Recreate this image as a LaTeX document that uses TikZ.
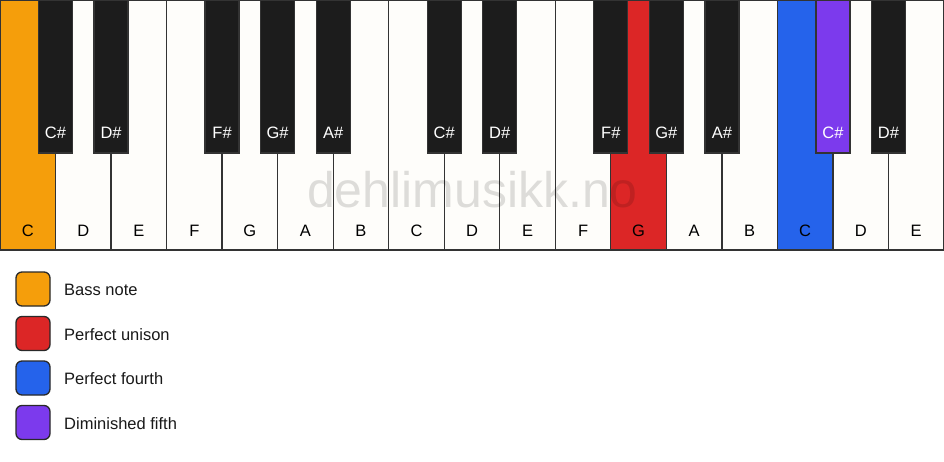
\documentclass[tikz,border=0pt]{standalone}
\usepackage{fontspec}
\setmainfont{Liberation Sans}
\definecolor{keywhite}{HTML}{FEFDFA}
\definecolor{keyblack}{HTML}{1C1C1C}
\definecolor{keyline}{HTML}{333333}
\definecolor{cbass}{HTML}{F59E0B}
\definecolor{cunison}{HTML}{DC2626}
\definecolor{cfourth}{HTML}{2563EB}
\definecolor{cfifth}{HTML}{7C3AED}
\tikzset{
  whitekey/.style={draw=keyline, line width=1.3pt, fill=keywhite},
  blackkey/.style={draw=keyline, line width=1.3pt, fill=keyblack},
  wlabel/.style={anchor=base, font=\fontsize{16.5}{19}\selectfont, text=black},
  blabel/.style={anchor=base, font=\fontsize{16.5}{19}\selectfont, text=white},
  legbox/.style={draw=keyline!80!black, line width=1.3pt, rounded corners=6pt, minimum width=34pt, minimum height=34pt, inner sep=0pt},
  legtext/.style={anchor=west, inner sep=0pt, font=\fontsize{16.5}{19}\selectfont, text=black!90},
  watermark/.style={anchor=base, font=\fontsize{50}{60}\selectfont, text=black, opacity=0.13}
}
\begin{document}
\begin{tikzpicture}[x=1pt,y=-1pt]
\useasboundingbox[fill=white] (0,0) rectangle (944,461);
\def\w{55.5294}
% white keys
\foreach \i/\n/\c in {0/C/cbass,1/D/keywhite,2/E/keywhite,3/F/keywhite,4/G/keywhite,5/A/keywhite,6/B/keywhite,7/C/keywhite,8/D/keywhite,9/E/keywhite,10/F/keywhite,11/G/cunison,12/A/keywhite,13/B/keywhite,14/C/cfourth,15/D/keywhite,16/E/keywhite}{
  \path[whitekey, fill=\c] (\i*\w,0) rectangle ({(\i+1)*\w},250) node[pos=0.5, inner sep=0pt] (wk\i) {};
  \node[wlabel] (wl\i) at ({(\i+0.5)*\w},236) {\n};
}
% watermark
\node[watermark] (wm) at (472.5,207) {dehlimusikk.no};
% black keys
\foreach \i/\n/\c in {0/C\#/keyblack,1/D\#/keyblack,3/F\#/keyblack,4/G\#/keyblack,5/A\#/keyblack,7/C\#/keyblack,8/D\#/keyblack,10/F\#/keyblack,11/G\#/keyblack,12/A\#/keyblack,14/C\#/cfifth,15/D\#/keyblack}{
  \path[blackkey, fill=\c] ({(\i+1)*\w-17},0) rectangle ({(\i+1)*\w+17},153) node[pos=0.5, inner sep=0pt] (bk\i) {};
  \node[blabel] (bl\i) at ({(\i+1)*\w},138.5) {\n};
}
% legend
\node[legbox, fill=cbass] (lb1) at (33,289) {};
\node[legtext] (lt1) at (64,290) {Bass note};
\node[legbox, fill=cunison] (lb2) at (33,333.5) {};
\node[legtext] (lt2) at (64,334.5) {Perfect unison};
\node[legbox, fill=cfourth] (lb3) at (33,378) {};
\node[legtext] (lt3) at (64,379) {Perfect fourth};
\node[legbox, fill=cfifth] (lb4) at (33,422.5) {};
\node[legtext] (lt4) at (64,423.5) {Diminished fifth};
\end{tikzpicture}
\end{document}
